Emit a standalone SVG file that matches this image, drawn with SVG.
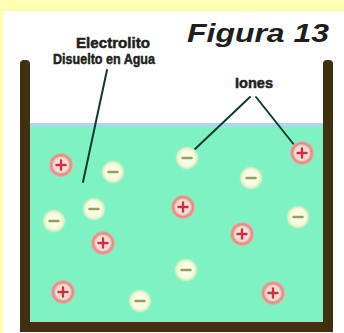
<svg xmlns="http://www.w3.org/2000/svg" width="344" height="333" viewBox="0 0 344 333">
  <style>
    .wall { fill: #41300f; }
    .lbl { font-family: "Liberation Sans", Arial, sans-serif; font-weight: bold; fill: #1e1e1e; }
    .heavy { stroke: #1e1e1e; stroke-width: 0.5; }
    .lead { stroke: #123a30; stroke-width: 2; fill: none; stroke-linecap: round; }
    .sign { stroke-width: 2.4; stroke-linecap: round; fill: none; }
  </style>
  <defs>
    <radialGradient id="posFill" cx="0.5" cy="0.5" r="0.5">
      <stop offset="0" stop-color="#fff4f2"/>
      <stop offset="0.6" stop-color="#fbd6d2"/>
      <stop offset="0.8" stop-color="#d98c80"/>
      <stop offset="1" stop-color="#e9b4a8"/>
    </radialGradient>
    <radialGradient id="negFill" cx="0.5" cy="0.5" r="0.5">
      <stop offset="0" stop-color="#fbffee"/>
      <stop offset="0.7" stop-color="#f2fbdc"/>
      <stop offset="0.88" stop-color="#d8eec0"/>
      <stop offset="1" stop-color="#a8ecc4"/>
    </radialGradient>
    <g id="pos">
      <circle r="12" fill="url(#posFill)"/>
      <path class="sign" d="M-4.5 0H4.5M0 -4.5V4.5" stroke="#d0303e"/>
    </g>
    <g id="neg">
      <circle r="11.5" fill="url(#negFill)"/>
      <path class="sign" d="M-4.5 0H4.5" stroke="#9a9a62"/>
    </g>
  </defs>

  <!-- page -->
  <rect x="0" y="0" width="344" height="333" fill="#ffffb4"/>
  <rect x="3" y="11" width="341" height="322" fill="#ffffff"/>

  <!-- liquid -->
  <g id="liquid">
    <rect x="29" y="123" width="295" height="200" fill="#7ff2c4"/>
    <rect x="29" y="123" width="295" height="4" fill="#a6dce6"/>
  </g>

  <!-- container -->
  <g id="container">
    <rect class="wall" x="20" y="60" width="10" height="272" rx="4"/>
    <rect class="wall" x="323" y="60" width="10" height="272" rx="4"/>
    <rect class="wall" x="20" y="322" width="313" height="10"/>
  </g>

  <!-- title -->
  <g id="title">
    <text class="lbl" x="187" y="42" font-size="26" font-style="italic" fill="#000" textLength="142" lengthAdjust="spacingAndGlyphs">Figura 13</text>
  </g>

  <!-- labels -->
  <g id="label-electrolito">
    <text class="lbl heavy" x="113" y="48" font-size="15" text-anchor="middle" textLength="74" lengthAdjust="spacingAndGlyphs">Electrolito</text>
    <text class="lbl heavy" x="104" y="64" font-size="15" text-anchor="middle" textLength="102" lengthAdjust="spacingAndGlyphs">Disuelto en Agua</text>
  </g>
  <g id="label-iones">
    <text class="lbl heavy" x="254" y="88" font-size="14" text-anchor="middle" textLength="38" lengthAdjust="spacingAndGlyphs">Iones</text>
  </g>

  <!-- leader lines -->
  <g id="connectors">
    <line class="lead" x1="107" y1="70" x2="83" y2="182"/>
    <line class="lead" x1="250" y1="97" x2="194" y2="150"/>
    <line class="lead" x1="256" y1="97" x2="295" y2="146"/>
  </g>

  <!-- ions -->
  <g id="ions">
    <use href="#pos" x="61" y="165"/>
    <use href="#neg" x="113" y="172"/>
    <use href="#neg" x="187" y="158"/>
    <use href="#pos" x="302" y="153"/>
    <use href="#neg" x="251" y="178"/>
    <use href="#pos" x="183" y="207"/>
    <use href="#neg" x="94" y="209"/>
    <use href="#neg" x="54" y="221"/>
    <use href="#neg" x="298" y="217"/>
    <use href="#pos" x="242" y="234"/>
    <use href="#pos" x="103" y="243"/>
    <use href="#neg" x="186" y="270"/>
    <use href="#pos" x="63" y="292"/>
    <use href="#neg" x="140" y="301"/>
    <use href="#pos" x="273" y="293"/>
  </g>
</svg>
